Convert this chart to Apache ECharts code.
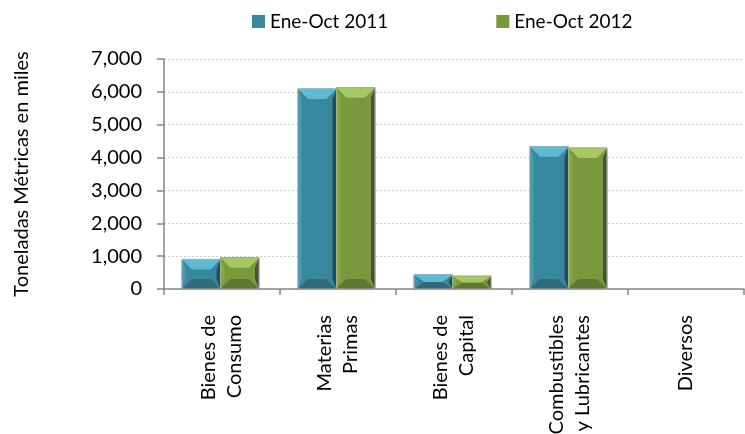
<!DOCTYPE html>
<html><head><meta charset="utf-8">
<script src="https://cdn.jsdelivr.net/npm/echarts@6/dist/echarts.min.js"></script>
<style>html,body{margin:0;padding:0;background:#fff}#c{width:745px;height:434px}</style>
</head><body><div id="c"></div>
<script>
const categories = ['Bienes de\nConsumo', 'Materias\nPrimas', 'Bienes de\nCapital', 'Combustibles\ny Lubricantes', 'Diversos'];
const seriesNames = ['Ene-Oct 2011', 'Ene-Oct 2012'];
const values2011 = [900, 6090, 430, 4330, 0];
const values2012 = [950, 6125, 390, 4290, 0];
const yMin = 0, yMax = 7000, yStep = 1000;

const palettes = [
  {main:'#37889F', top:'#5DBAD4', left:'#4496AE', right:'#1D4F5E', bottom:'#2D6B7D'},
  {main:'#7A983C', top:'#A6C860', left:'#88A847', right:'#435520', bottom:'#5F7830'}
];
const FONT = 'Lato';

function makeRender(idx) {
  const p = palettes[idx];
  return function (params, api) {
    const ci = api.value(0), v = api.value(1);
    const base = api.coord([ci, 0]);
    const top = api.coord([ci, v]);
    const band = api.size([1, 0])[0];
    const w = band * 0.332;
    const cx = base[0] + (idx === 0 ? -w / 2 : w / 2) - 1.5;
    const x0 = cx - w / 2, x1 = cx + w / 2, y0 = top[1], y1 = base[1];
    const h = y1 - y0;
    if (h <= 0.5) return null;
    const bx = Math.min(10, w / 2), by = Math.min(10, h / 2);
    const sideW = Math.min(4, w / 4);
    const poly = (pts, fill) => ({type: 'polygon', shape: {points: pts}, style: {fill: fill}});
    return {
      type: 'group',
      children: [
        {type: 'rect', shape: {x: x0, y: y0, width: w, height: h}, style: {fill: p.main, stroke: '#9a9a9a', lineWidth: 1}},
        poly([[x0, y0], [x0 + sideW, y0 + by], [x0 + sideW, y1 - by], [x0, y1]], p.left),
        poly([[x1, y0], [x1 - sideW, y0 + by], [x1 - sideW, y1 - by], [x1, y1]], p.right),
        poly([[x0, y1], [x0 + bx, y1 - by], [x1 - bx, y1 - by], [x1, y1]], p.bottom),
        poly([[x0, y0], [x1, y0], [x1 - bx, y0 + by], [x0 + bx, y0 + by]], p.top),
        {type: 'rect', shape: {x: x0, y: y0, width: w, height: h}, style: {fill: 'none', stroke: '#a8a8a8', lineWidth: 1}}
      ]
    };
  };
}

const chart = echarts.init(document.getElementById('c'), null, {renderer: 'canvas'});
chart.setOption({
  animation: false,
  backgroundColor: '#fff',
  textStyle: {fontFamily: FONT},
  legend: {
    left: 247, top: 7,
    itemWidth: 13, itemHeight: 13, itemGap: 108,
    icon: 'rect',
    textStyle: {fontFamily: FONT, fontSize: 19, color: '#000'},
    data: seriesNames
  },
  grid: {left: 164, right: 1, top: 59, bottom: 145, containLabel: false, outerBoundsMode: 'none'},
  xAxis: {
    type: 'category',
    data: categories,
    axisLine: {lineStyle: {color: '#868686', width: 1.5}},
    axisTick: {show: true, length: 6, lineStyle: {color: '#868686', width: 1.5}},
    axisLabel: {rotate: 90, margin: 26, fontFamily: FONT, fontSize: 20, lineHeight: 26, color: '#000', align: 'right', interval: 0,
      padding: [10, 0, 0, 0]},
    splitLine: {show: false}
  },
  yAxis: {
    type: 'value', min: yMin, max: yMax, interval: yStep,
    name: 'Toneladas Métricas en miles',
    nameLocation: 'middle', nameGap: 132, nameRotate: 90,
    nameTextStyle: {fontFamily: FONT, fontSize: 20, color: '#000'},
    axisLine: {show: true, lineStyle: {color: '#868686', width: 1.5}},
    axisTick: {show: true, length: 7, lineStyle: {color: '#868686', width: 1.5}},
    axisLabel: {margin: 22, fontFamily: FONT, fontSize: 20, color: '#000',
      formatter: v => v.toLocaleString('en-US')},
    splitLine: {lineStyle: {color: '#d0d0d0', type: [2, 2], width: 1}}
  },
  series: [
    {name: seriesNames[0], type: 'custom', renderItem: makeRender(0), itemStyle: {color: palettes[0].main},
     encode: {x: 0, y: 1}, data: values2011.map((v, i) => [i, v])},
    {name: seriesNames[1], type: 'custom', renderItem: makeRender(1), itemStyle: {color: palettes[1].main},
     encode: {x: 0, y: 1}, data: values2012.map((v, i) => [i, v])}
  ]
});
</script></body></html>
